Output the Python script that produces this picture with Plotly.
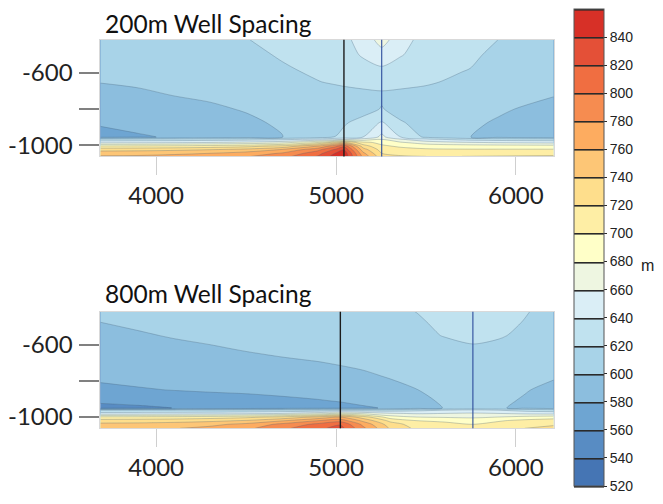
import plotly.graph_objects as go

# ---------------- data ----------------
level_start, level_end, level_step = 520, 860, 20
band_colors = [
    "#4575b4", "#588cc3", "#6ea5d2", "#8cbede", "#a8d3e8", "#c0e2ef",
    "#daeef6", "#eef6e1", "#ffffc8", "#feeea5", "#fede8c", "#fdc676",
    "#fdac60", "#f68c50", "#f06e41", "#e45037", "#d73027",
]
cb_ticks = [520, 540, 560, 580, 600, 620, 640, 660, 680, 700, 720, 740, 760, 780, 800, 820, 840]

# 200 m spacing panel
x_top = [3690, 3900, 4100, 4300, 4500, 4700, 4900, 5000, 5044, 5150, 5254, 5360, 5500, 5700, 5900, 6210]
y_top = [-418, -500, -575, -650, -725, -800, -875, -955, -968, -985, -1005, -1025, -1045, -1062]
z_top = [
    [606, 608, 610, 614, 619.5, 624, 628, 632, 635, 648, 668, 648, 632, 626, 620, 612],
    [604, 606, 608, 611, 615, 622, 627, 631, 633, 642, 652, 641, 633, 624, 617, 609],
    [602, 604, 606, 609, 612, 618, 624, 627, 629, 634, 638, 634, 628, 621.5, 615, 607],
    [600.5, 602, 604, 607, 610, 614, 619.5, 622, 623, 625, 626, 625, 622.5, 616, 611, 604],
    [595, 597.5, 600.2, 602, 605, 608, 611, 613, 614, 615.5, 617, 615.5, 613.5, 610, 606, 600.8],
    [589, 592, 595, 598, 601, 604, 607, 609, 610, 613, 621, 613, 610, 607, 603, 593],
    [582.5, 586, 590, 594, 597.5, 602, 611, 616, 618, 626, 642, 621.5, 613, 605, 598, 590],
    [573, 578, 582, 587, 592, 599.5, 612, 620.5, 625, 640, 665, 640, 616, 602, 594, 588],
    [626, 627, 628, 630, 632, 636, 645, 655, 660, 668, 680, 662, 645, 634, 630, 628],
    [655, 656, 657, 660, 664, 672, 700, 730, 745, 705, 695, 682, 670, 662, 658, 655],
    [702, 703, 705, 708, 713, 725, 760, 795, 815, 730, 703, 697, 692, 690, 689, 688],
    [733, 734, 736, 740, 747, 762, 795, 825, 840, 750, 712, 706, 703, 702, 702, 702],
    [752, 753, 756, 760, 768, 782, 812, 842, 855, 765, 720, 714, 712, 712, 713, 714],
    [762, 763, 766, 770, 778, 792, 822, 850, 858, 775, 728, 722, 720, 720, 721, 722],
]

# 800 m spacing panel
x_bot = [3690, 3900, 4100, 4300, 4500, 4700, 4900, 5024, 5150, 5300, 5450, 5600, 5761, 5900, 6050, 6210]
y_bot = [-418, -476, -550, -625, -700, -775, -850, -910, -950, -962, -980, -1000, -1020, -1040, -1062]
z_bot = [
    [603, 605, 607, 609, 610.5, 612, 613.5, 614.5, 615.5, 617.5, 620.2, 625, 630, 626, 620.8, 616],
    [600, 602.5, 604.5, 606.5, 608, 610, 611.5, 612.5, 614, 616, 618.5, 622.5, 627, 623.5, 619.5, 614],
    [595.5, 598.5, 601, 603, 605, 607, 609, 610.5, 612, 614, 616.5, 620.5, 624, 621.5, 617, 612],
    [591, 594, 596.5, 598.5, 600.8, 603, 605, 606.5, 608, 610, 612.5, 615, 617.5, 616, 613, 609],
    [587, 589.5, 592, 594, 596, 597.8, 599.5, 601, 603, 605.5, 608, 610.5, 612.5, 611, 608, 604],
    [583, 585.5, 588, 590, 591.5, 593, 594.5, 596, 597.5, 601, 604, 607, 609, 608, 605.5, 601.5],
    [576.5, 578.5, 580.5, 582, 583, 585, 587, 589, 592, 595.5, 599.8, 603.5, 606, 604, 601, 596],
    [564, 567, 570, 572.5, 574.5, 576.5, 579, 581, 585, 590, 596, 602, 605, 603, 598.5, 592],
    [553, 556, 560.3, 564, 567, 570, 573, 575, 577.5, 582, 592, 600.5, 604, 602, 596, 590],
    [620, 620.5, 621, 622, 623, 624, 626, 628, 628, 630, 635, 640, 645, 640, 632, 628],
    [648, 649, 650, 652, 655, 660, 672, 685, 675, 662, 658, 660, 662, 660, 656, 654],
    [705, 706, 707, 710, 715, 725, 745, 760, 730, 690, 680, 678, 676, 680, 686, 690],
    [728, 729, 731, 735, 742, 758, 780, 792, 755, 715, 700, 697, 693, 698, 705, 710],
    [746, 747, 750, 755, 765, 785, 805, 818, 775, 730, 710, 705, 700, 706, 714, 718],
    [755, 756, 759, 765, 775, 795, 815, 828, 785, 738, 715, 710, 705, 712, 720, 724],
]

wells_top = [5044, 5254]
wells_bot = [5024, 5761]
well_colors = ["#1c1c1c", "#2c4c9c"]

titles = ["200m Well Spacing", "800m Well Spacing"]
x_ticks = [4000, 5000, 6000]
y_ticks = [-600, -800, -1000]
y_ticktext = ["-600", "", "-1000"]
x_range = [3690, 6210]
y_range = [-1062, -418]
unit_label = "m"

# ---------------- figure ----------------
# the page body adds an 8 px margin, so the figure is sized to fit the
# 663x504 window exactly and page-pixel positions are converted with that offset
OFF = 8
W, H = 647, 488


def px(p):
    return (p - OFF) / W


def py(p):
    return 1 - (p - OFF) / H


span = level_end - level_start
colorscale = [[0.0, band_colors[0]]]
for k, c in enumerate(band_colors):
    mid = level_start + level_step * k + level_step / 2
    colorscale.append([(mid - level_start) / span, c])
colorscale.append([1.0, band_colors[-1]])

contours = dict(start=level_start, end=level_end, size=level_step,
                coloring="fill", showlines=True)

fig = go.Figure()
for (xs, ys, zs, xa, ya) in [(x_top, y_top, z_top, "x", "y"),
                             (x_bot, y_bot, z_bot, "x2", "y2")]:
    fig.add_trace(go.Contour(
        x=xs, y=ys, z=zs, xaxis=xa, yaxis=ya,
        zmin=level_start, zmax=level_end, zauto=False,
        autocontour=False, contours=contours, colorscale=colorscale,
        line=dict(color="rgba(70,95,120,0.38)", width=0.8, smoothing=0.8),
        showscale=False, hoverinfo="skip"))

# colour-bar carrier (drawn outside its own tiny axis range)
cb_top, cb_bot = 9, 488
fig.add_trace(go.Contour(
    x=x_top, y=y_top, z=z_top, xaxis="x3", yaxis="y3",
    zmin=level_start, zmax=level_end, zauto=False,
    autocontour=False, contours=contours, colorscale=colorscale,
    line=dict(color="#2a2a2a", width=1.6),
    showscale=True, hoverinfo="skip",
    colorbar=dict(
        thickness=30, thicknessmode="pixels",
        len=(cb_bot - cb_top) / H, lenmode="fraction",
        x=px(573), xanchor="left", xpad=0,
        y=py((cb_top + cb_bot) / 2), yanchor="middle", ypad=0,
        outlinecolor="#555555", outlinewidth=1,
        tickvals=cb_ticks, ticks="outside", ticklen=3, tickcolor="#2a2a2a",
        tickfont=dict(family="Liberation Sans", size=14, color="#222222"),
    )))

shapes = []
for wells, xr, yr in [(wells_top, "x", "y domain"), (wells_bot, "x2", "y2 domain")]:
    for xv, col in zip(wells, well_colors):
        shapes.append(dict(type="line", xref=xr, yref=yr, x0=xv, x1=xv, y0=0, y1=1,
                           line=dict(color=col, width=1.4 if col == well_colors[0] else 1.1)))

tick_font = dict(family="Lato", size=24, color="#222222")
xdom = [px(97), px(553)]


def xaxis(anchor):
    return dict(domain=xdom, range=x_range, anchor=anchor, tickvals=x_ticks,
                ticks="outside", ticklen=18, tickcolor="#cfcfcf", tickwidth=1,
                showgrid=False, zeroline=False, showline=True, mirror=True,
                linecolor="#d9d9d9", linewidth=1, tickfont=tick_font,
                ticklabelstandoff=0)


def yaxis(anchor, dom):
    return dict(domain=dom, range=y_range, anchor=anchor, tickvals=y_ticks,
                ticktext=y_ticktext, ticks="outside", ticklen=20,
                tickcolor="#808080", tickwidth=1.5, showgrid=False, zeroline=False,
                showline=True, mirror=True, linecolor="#d9d9d9", linewidth=1,
                tickfont=tick_font, ticklabelstandoff=2)


annotations = [
    dict(text=titles[0], xref="paper", yref="paper", x=px(100), y=py(24),
         xanchor="left", yanchor="middle", showarrow=False,
         font=dict(family="Lato", size=24.5, color="#111111")),
    dict(text=titles[1], xref="paper", yref="paper", x=px(100), y=py(295),
         xanchor="left", yanchor="middle", showarrow=False,
         font=dict(family="Lato", size=24.5, color="#111111")),
    dict(text=unit_label, xref="paper", yref="paper", x=px(647), y=py(267),
         xanchor="center", yanchor="middle", showarrow=False,
         font=dict(family="Liberation Sans", size=16, color="#222222")),
]

fig.update_layout(
    width=W, height=H, margin=dict(l=0, r=0, t=0, b=0),
    paper_bgcolor="white", plot_bgcolor="white", showlegend=False,
    xaxis=xaxis("y"),
    yaxis=yaxis("x", [py(157), py(40)]),
    xaxis2=xaxis("y2"),
    yaxis2=yaxis("x2", [py(430), py(313)]),
    xaxis3=dict(domain=[0, 0.004], range=[0, 1], visible=False, anchor="y3"),
    yaxis3=dict(domain=[0, 0.004], range=[0, 1], visible=False, anchor="x3"),
    shapes=shapes, annotations=annotations,
)

fig.write_html("out.html")
